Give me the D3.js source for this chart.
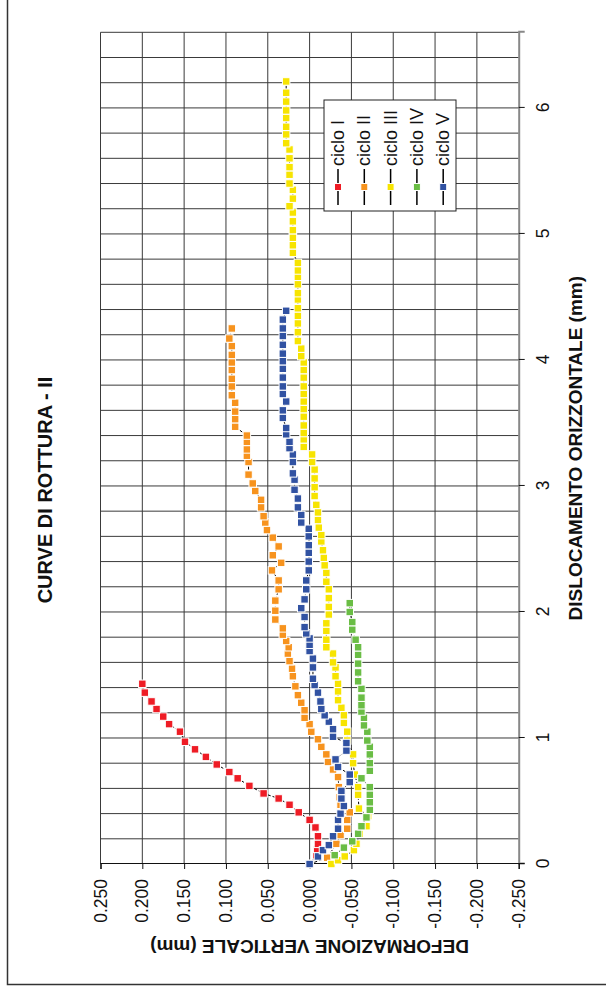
<!DOCTYPE html>
<html>
<head>
<meta charset="utf-8">
<script src="https://cdn.jsdelivr.net/npm/d3@7"></script>
<style>
  body { margin: 0; background: #fff; }
  text { font-family: "Liberation Sans", Arial, sans-serif; }
</style>
</head>
<body>
<div id="chart"></div>
<script>
// data: [dislocamento orizzontale (mm), deformazione verticale (mm)]
var cicloI = [[0, 0], [0.07, -0.008], [0.12, -0.009], [0.16, -0.010], [0.22, -0.010], [0.29, -0.007],
  [0.35, 0.000], [0.41, 0.013], [0.47, 0.024], [0.52, 0.037], [0.56, 0.055], [0.62, 0.072],
  [0.68, 0.086], [0.73, 0.096], [0.79, 0.111], [0.85, 0.124], [0.91, 0.137], [0.97, 0.149],
  [1.05, 0.155], [1.11, 0.168], [1.17, 0.175], [1.23, 0.183], [1.29, 0.189], [1.36, 0.197], [1.43, 0.200]]

var cicloII = [[0, 0], [0.05, -0.021], [0.16, -0.032], [0.23, -0.037], [0.28, -0.045], [0.35, -0.045],
  [0.41, -0.048], [0.47, -0.037], [0.53, -0.036], [0.61, -0.035], [0.69, -0.034], [0.75, -0.028],
  [0.81, -0.022], [0.87, -0.020], [0.93, -0.014], [0.99, -0.010], [1.05, -0.002], [1.11, 0.000],
  [1.16, 0.006], [1.22, 0.006], [1.28, 0.010], [1.34, 0.014], [1.41, 0.017], [1.49, 0.020],
  [1.55, 0.021], [1.61, 0.024], [1.67, 0.026], [1.72, 0.025], [1.77, 0.028], [1.82, 0.032],
  [1.87, 0.032], [1.94, 0.041], [2.01, 0.041], [2.09, 0.041], [2.18, 0.037], [2.25, 0.037],
  [2.33, 0.045], [2.39, 0.034], [2.45, 0.044], [2.52, 0.037], [2.59, 0.044], [2.65, 0.051],
  [2.71, 0.053], [2.76, 0.055], [2.83, 0.058], [2.89, 0.058], [2.96, 0.065], [3.02, 0.068],
  [3.09, 0.073], [3.19, 0.073], [3.24, 0.075], [3.29, 0.075], [3.35, 0.075], [3.40, 0.075],
  [3.47, 0.089], [3.53, 0.089], [3.59, 0.089], [3.66, 0.089], [3.72, 0.093], [3.79, 0.093],
  [3.85, 0.093], [3.92, 0.093], [3.98, 0.093], [4.04, 0.093], [4.11, 0.093], [4.17, 0.096], [4.25, 0.093]]

var cicloIII = [[0, -0.026], [0.03, -0.034], [0.06, -0.042], [0.11, -0.053], [0.16, -0.056],
  [0.24, -0.060], [0.30, -0.068], [0.38, -0.070], [0.44, -0.059], [0.55, -0.058], [0.61, -0.058],
  [0.71, -0.054], [0.80, -0.052], [0.87, -0.052], [0.98, -0.045], [1.05, -0.045], [1.12, -0.041],
  [1.18, -0.041], [1.24, -0.038], [1.30, -0.034], [1.37, -0.034], [1.43, -0.034], [1.49, -0.031],
  [1.56, -0.031], [1.60, -0.028], [1.67, -0.028], [1.72, -0.020], [1.78, -0.020], [1.85, -0.020],
  [1.91, -0.020], [1.98, -0.023], [2.04, -0.023], [2.11, -0.023], [2.18, -0.023], [2.24, -0.020],
  [2.31, -0.020], [2.37, -0.018], [2.43, -0.017], [2.49, -0.016], [2.56, -0.014], [2.61, -0.014],
  [2.67, -0.011], [2.73, -0.010], [2.79, -0.010], [2.85, -0.008], [2.92, -0.006], [2.99, -0.006],
  [3.06, -0.006], [3.13, -0.006], [3.19, -0.003], [3.25, -0.003], [3.31, 0.007], [3.37, 0.007],
  [3.42, 0.007], [3.48, 0.007], [3.55, 0.007], [3.61, 0.007], [3.67, 0.007], [3.73, 0.007],
  [3.79, 0.007], [3.86, 0.007], [3.92, 0.007], [3.98, 0.007], [4.03, 0.010], [4.09, 0.010],
  [4.15, 0.014], [4.22, 0.014], [4.29, 0.014], [4.35, 0.014], [4.41, 0.014], [4.48, 0.014],
  [4.53, 0.014], [4.60, 0.014], [4.66, 0.014], [4.71, 0.014], [4.77, 0.014], [4.85, 0.020],
  [4.91, 0.020], [4.97, 0.020], [5.03, 0.020], [5.10, 0.020], [5.17, 0.020], [5.22, 0.024],
  [5.28, 0.020], [5.35, 0.020], [5.40, 0.024], [5.47, 0.024], [5.53, 0.024], [5.60, 0.024],
  [5.67, 0.024], [5.72, 0.028], [5.79, 0.028], [5.85, 0.028], [5.92, 0.028], [5.98, 0.028],
  [6.05, 0.028], [6.12, 0.028], [6.21, 0.028]]

var cicloIV = [[0.07, -0.030], [0.13, -0.041], [0.18, -0.051], [0.24, -0.058], [0.30, -0.062],
  [0.37, -0.068], [0.43, -0.072], [0.49, -0.072], [0.55, -0.072], [0.61, -0.072], [0.68, -0.062],
  [0.74, -0.072], [0.80, -0.072], [0.87, -0.072], [0.93, -0.072], [0.98, -0.069], [1.05, -0.069],
  [1.10, -0.065], [1.16, -0.065], [1.21, -0.062], [1.26, -0.062], [1.32, -0.062], [1.39, -0.062],
  [1.45, -0.058], [1.52, -0.058], [1.59, -0.058], [1.66, -0.058], [1.72, -0.058], [1.78, -0.055],
  [1.86, -0.051], [1.92, -0.051], [2.00, -0.048], [2.07, -0.048]]

var cicloV = [[0, 0], [0.06, -0.010], [0.11, -0.016], [0.15, -0.023], [0.22, -0.028], [0.28, -0.034],
  [0.35, -0.034], [0.40, -0.037], [0.46, -0.041], [0.52, -0.038], [0.58, -0.038], [0.65, -0.048],
  [0.71, -0.048], [0.77, -0.034], [0.83, -0.031], [0.90, -0.044], [0.96, -0.044], [1.01, -0.028],
  [1.07, -0.028], [1.13, -0.023], [1.18, -0.018], [1.23, -0.014], [1.29, -0.013], [1.36, -0.010],
  [1.42, -0.006], [1.47, -0.004], [1.56, -0.004], [1.63, -0.004], [1.69, 0.000], [1.74, 0.000],
  [1.79, 0.000], [1.83, 0.004], [1.88, 0.006], [1.96, 0.006], [2.03, 0.010], [2.10, 0.006],
  [2.18, 0.004], [2.25, 0.004], [2.33, 0.001], [2.40, 0.001], [2.47, 0.001], [2.53, 0.001],
  [2.60, 0.001], [2.66, 0.001], [2.71, 0.010], [2.77, 0.010], [2.83, 0.014], [2.90, 0.014],
  [2.97, 0.018], [3.05, 0.018], [3.10, 0.020], [3.19, 0.020], [3.25, 0.020], [3.30, 0.024],
  [3.35, 0.024], [3.41, 0.028], [3.46, 0.028], [3.54, 0.032], [3.60, 0.032], [3.67, 0.028],
  [3.73, 0.032], [3.79, 0.032], [3.86, 0.032], [3.93, 0.032], [3.99, 0.032], [4.05, 0.032],
  [4.12, 0.032], [4.19, 0.032], [4.25, 0.032], [4.32, 0.032], [4.39, 0.028]]

var seriesNames = ['ciclo I', 'ciclo II', 'ciclo III', 'ciclo IV', 'ciclo V']
var seriesColors = ['#ee1c25', '#f7931e', '#f7e400', '#6abd45', '#3152a2']
var xTicks = [0, 1, 2, 3, 4, 5, 6]
var yTicks = [0.25, 0.2, 0.15, 0.1, 0.05, 0, -0.05, -0.1, -0.15, -0.2, -0.25]

var series = [cicloI, cicloII, cicloIII, cicloIV, cicloV]

// the chart is laid out unrotated (986 wide, 606 tall) and then turned a quarter left
var W = 986
var H = 606

var svg = d3.select('#chart').append('svg')
  .attr('width', H)
  .attr('height', W)

var g = svg.append('g')
  .attr('transform', 'translate(0,' + W + ') rotate(-90)')

// outer frame (cut by the page edges)
g.append('rect')
  .attr('x', 1.5).attr('y', 7.5)
  .attr('width', W + 20).attr('height', H + 20)
  .attr('fill', 'none')
  .attr('stroke', '#333')
  .attr('stroke-width', 1.5)

var x = d3.scaleLinear().domain([0, 6.6]).range([122, 953.7])
var y = d3.scaleLinear().domain([-0.25, 0.25]).range([518.7, 100.5])

// grid
var grid = g.append('g')
grid.selectAll('.gx')
  .data(d3.range(1, 34).map(function (i) { return i * 0.2 }))
  .enter().append('line')
  .attr('x1', function (d) { return x(d) }).attr('x2', function (d) { return x(d) })
  .attr('y1', y(0.25)).attr('y2', y(-0.25))
  .attr('stroke', '#3a3a3a')
  .attr('stroke-width', 1)
grid.selectAll('.gy')
  .data(yTicks.slice(0, 10))
  .enter().append('line')
  .attr('x1', x(0)).attr('x2', x(6.6))
  .attr('y1', function (d) { return y(d) }).attr('y2', function (d) { return y(d) })
  .attr('stroke', '#3a3a3a')
  .attr('stroke-width', 1)

// x axis (bottom, grey line)
var xAxis = g.append('g').attr('transform', 'translate(0,' + y(-0.25) + ')')
  .call(d3.axisBottom(x).tickValues(xTicks).tickFormat(d3.format('d')).tickSize(6).tickPadding(12))
xAxis.select('.domain').attr('stroke', '#888').attr('stroke-width', 2)
xAxis.selectAll('.tick line').attr('stroke', '#111')
xAxis.selectAll('text').attr('font-size', 17.5).attr('fill', '#111')

// y axis (left), plain hyphen for the minus sign
var fmtY = function (d) { return d3.format('.3f')(d).replace('\u2212', '-') }
var yAxis = g.append('g').attr('transform', 'translate(' + x(0) + ',0)')
  .call(d3.axisLeft(y).tickValues(yTicks).tickFormat(fmtY).tickSize(5).tickPadding(10))
yAxis.select('.domain').attr('stroke', '#111').attr('stroke-width', 1.2)
yAxis.selectAll('.tick line').attr('stroke', '#111')
yAxis.selectAll('text').attr('font-size', 17.5).attr('fill', '#111')

// titles
g.append('text')
  .attr('x', 496).attr('y', 51.7)
  .attr('text-anchor', 'middle')
  .attr('font-size', 20).attr('font-weight', 'bold').attr('fill', '#111')
  .text('CURVE DI ROTTURA - II')

g.append('text')
  .attr('x', (x(0) + x(6.6)) / 2).attr('y', 582)
  .attr('text-anchor', 'middle')
  .attr('font-size', 19).attr('font-weight', 'bold').attr('fill', '#111')
  .text('DISLOCAMENTO ORIZZONTALE (mm)')

g.append('text')
  .attr('transform', 'translate(46,' + y(0) + ') rotate(-90)')
  .attr('text-anchor', 'middle')
  .attr('font-size', 19).attr('font-weight', 'bold').attr('fill', '#111')
  .text('DEFORMAZIONE VERTICALE (mm)')

// series
var line = d3.line()
  .x(function (d) { return x(d[0]) })
  .y(function (d) { return y(d[1]) })

var MK = 7.5

series.forEach(function (s, i) {
  var sg = g.append('g')
  sg.append('path')
    .attr('d', line(s))
    .attr('fill', 'none')
    .attr('stroke', '#000')
    .attr('stroke-width', 1)
    .attr('stroke-dasharray', '3,2')
  sg.selectAll('rect').data(s).enter().append('rect')
    .attr('x', function (d) { return x(d[0]) - MK / 2 })
    .attr('y', function (d) { return y(d[1]) - MK / 2 })
    .attr('width', MK).attr('height', MK)
    .attr('fill', seriesColors[i])
    .attr('stroke', '#fff')
    .attr('stroke-width', 1)
})

// legend
var legend = g.append('g')
legend.append('rect')
  .attr('x', 775).attr('y', 324)
  .attr('width', 111).attr('height', 132)
  .attr('fill', '#fff')
  .attr('stroke', '#222')
  .attr('stroke-width', 1)

var items = legend.selectAll('.item').data(seriesNames).enter().append('g')
  .attr('transform', function (d, i) { return 'translate(0,' + (338 + i * 26.3) + ')' })
items.append('line')
  .attr('x1', 781).attr('x2', 817)
  .attr('stroke', '#000').attr('stroke-width', 1.5)
items.append('rect')
  .attr('x', 799 - 3.5).attr('y', -3.5)
  .attr('width', 7).attr('height', 7)
  .attr('fill', function (d, i) { return seriesColors[i] })
  .attr('stroke', '#fff')
items.append('text')
  .attr('x', 820).attr('y', 6)
  .attr('font-size', 18).attr('fill', '#111')
  .text(function (d) { return d })
</script>
</body>
</html>
